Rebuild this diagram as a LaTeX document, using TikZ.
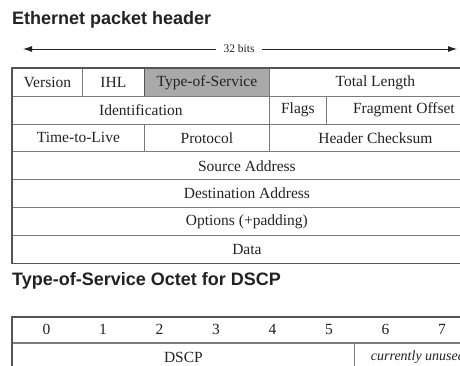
\documentclass[tikz,border=0pt]{standalone}
\usepackage{fontspec}
\setmainfont{Liberation Serif}
\newfontfamily\titlefont{Liberation Sans}
\usetikzlibrary{arrows.meta,positioning}
\definecolor{GridLine}{HTML}{7A7A7A}
\definecolor{FrameLine}{HTML}{555555}
\definecolor{TosFill}{HTML}{A9A9A9}
\definecolor{InkDark}{HTML}{222222}
\tikzset{
  cell/.style={rectangle, draw=GridLine, line width=0.8pt, anchor=north west,
               minimum height=27.8pt, inner sep=0pt, text=InkDark,
               font=\fontsize{15.5}{17}\selectfont},
  tcell/.style={cell, minimum height=25.5pt},
  ttl/.style={font=\titlefont\bfseries\fontsize{18}{21}\selectfont,
              anchor=west, inner sep=0pt, text=InkDark},
  frame/.style={line width=1.4pt, draw=FrameLine},
  bitnum/.style={font=\fontsize{15.5}{17}\selectfont, inner sep=0pt, text=InkDark},
  widthlabel/.style={font=\fontsize{11.5}{12}\selectfont, inner xsep=7pt, text=InkDark},
  span/.style={line width=0.9pt, draw=InkDark, -{Latex[length=9pt,width=6pt]}},
}
\begin{document}
\begin{tikzpicture}[x=1pt, y=-1pt]
\clip (0,0) rectangle (460,366);
\fill[white] (0,0) rectangle (460,366);
% titles
\node[ttl] (hdrtitle) at (12,20) {Ethernet packet header};
\node[ttl] (tostitle) at (12,281) {Type-of-Service Octet for DSCP};
% 32 bit span
\node[widthlabel] (bits) at (239,49) {32 bits};
\coordinate (spanL) at (23,49);
\coordinate (spanR) at (457,49);
\draw[span] (bits.west) -- (spanL);
\draw[span] (bits.east) -- (spanR);
% header rows
\node[cell, minimum width=70pt] (version) at (12,68) {Version};
\node[cell, minimum width=62pt] (ihl) at (82,68) {IHL};
\node[cell, minimum width=125pt, fill=TosFill, draw=FrameLine] (tos) at (144,68) {Type-of-Service};
\node[cell, minimum width=212pt] (totlen) at (269,68) {Total Length};
\node[cell, minimum width=257pt] (ident) at (12,95.8) {Identification};
\node[cell, minimum width=57pt] (flags) at (269,95.8) {Flags};
\node[cell, minimum width=155pt] (fragoff) at (326,95.8) {Fragment Offset};
\node[cell, minimum width=132pt] (ttl) at (12,123.6) {Time-to-Live};
\node[cell, minimum width=125pt] (proto) at (144,123.6) {Protocol};
\node[cell, minimum width=212pt] (hdrsum) at (269,123.6) {Header Checksum};
\node[cell, minimum width=469pt] (srcaddr) at (12,151.4) {Source Address};
\node[cell, minimum width=469pt] (dstaddr) at (12,179.2) {Destination Address};
\node[cell, minimum width=469pt] (options) at (12,207) {Options (+padding)};
\node[cell, minimum width=469pt] (data) at (12,234.8) {Data};
\draw[frame] (version.north west) rectangle (data.south east);
% type-of-service octet
\node[tcell, minimum width=469pt] (bitrow) at (12,317) {};
\foreach \b in {0,...,7}
  \node[bitnum] (b\b) at ({46.5+56.5*\b},329.5) {\b};
\node[tcell, minimum width=342pt, minimum height=30pt] (dscp) at (12,342) {DSCP};
\node[tcell, minimum width=127pt, minimum height=30pt, font=\fontsize{14}{15}\selectfont\itshape] (unused) at (354,342) {currently unused};
\draw[frame] (dscp.south west) -- (bitrow.north west) -- (bitrow.north east);
\end{tikzpicture}
\end{document}
